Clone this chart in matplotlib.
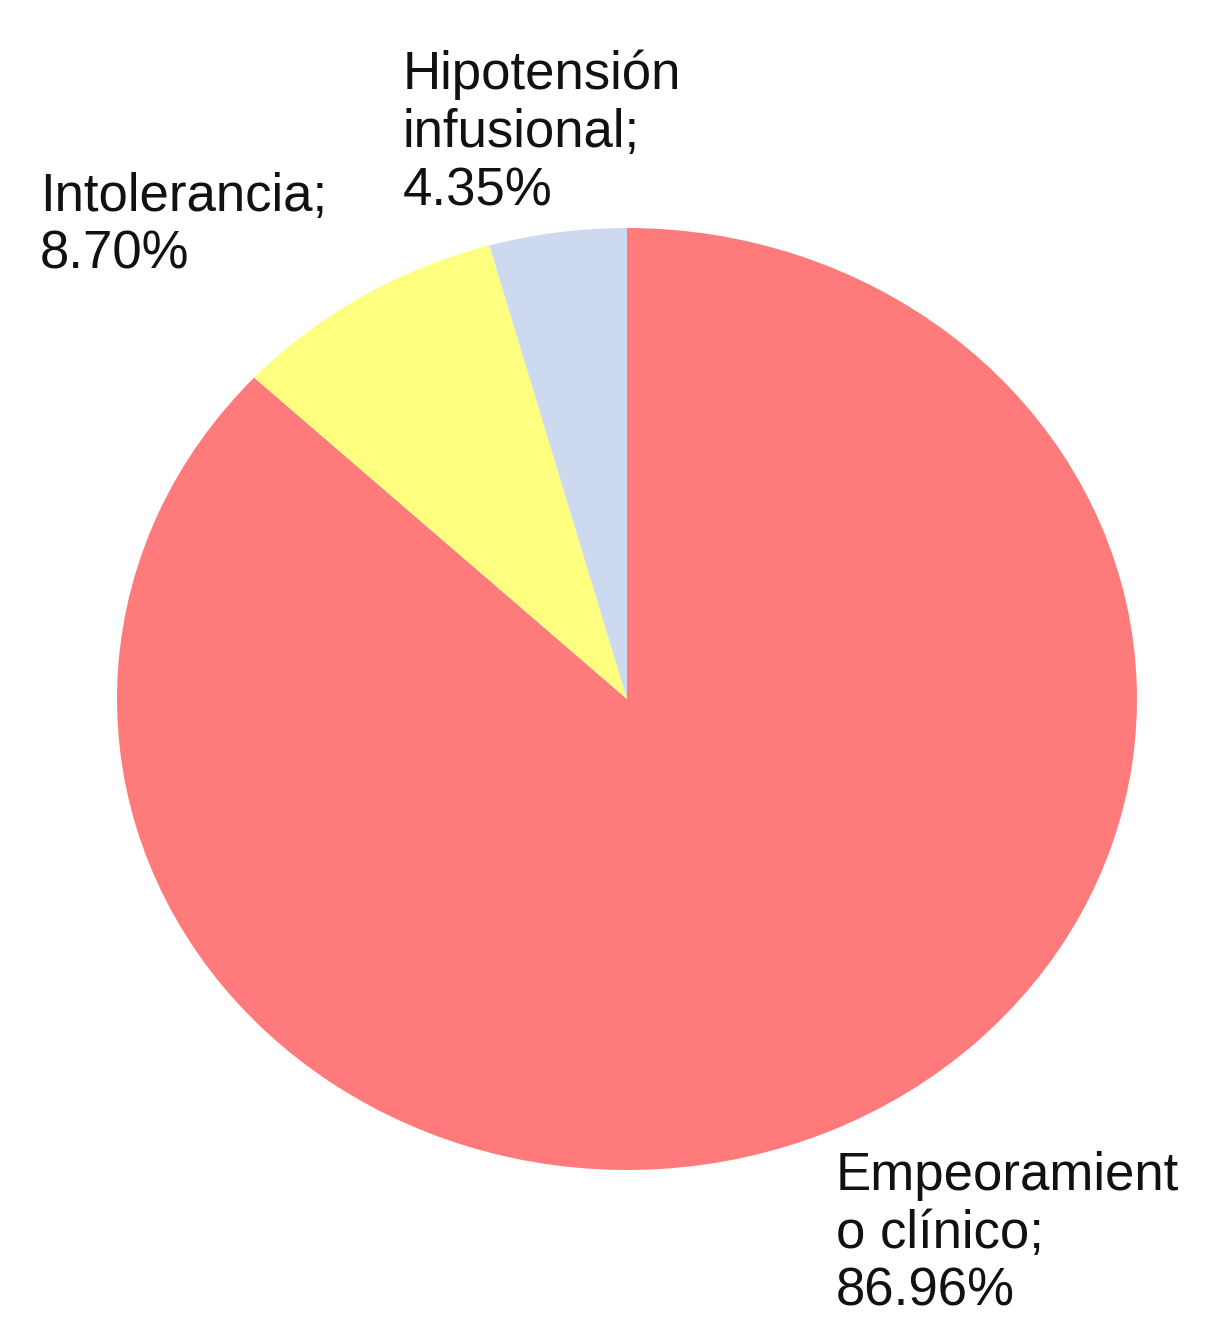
import matplotlib
matplotlib.use("Agg")
from matplotlib import pyplot as plt

# data
categories = ["Empeoramiento clínico", "Intolerancia", "Hipotensión infusional"]
shares = [86.96, 8.70, 4.35]
label_text = ["Empeoramient\no clínico;\n86.96%",
              "Intolerancia;\n8.70%",
              "Hipotensión\ninfusional;\n4.35%"]
colors = ["#ff7b7b", "#ffff7f", "#cdd9ee"]

W, H = 1219, 1317
fig = plt.figure(figsize=(W / 100, H / 100), dpi=100)
fig.patch.set_facecolor("white")

# pie box in pixels (the source image is slightly stretched, so ellipse)
x0, x1, y0, y1 = 117, 1137, 228, 1170
ax = fig.add_axes([x0 / W, 1 - y1 / H, (x1 - x0) / W, (y1 - y0) / H])
ax.pie(shares, colors=colors, startangle=90, counterclock=False,
       wedgeprops={"linewidth": 0})
ax.set_aspect("auto")
ax.set_xlim(-1, 1)
ax.set_ylim(-1, 1)
ax.axis("off")

# label anchors (left edge, top) in pixels
label_pos = [(836, 1151), (40, 172), (403, 50)]
for txt, (px, py) in zip(label_text, label_pos):
    fig.text(px / W, 1 - py / H, txt, ha="left", va="top",
             fontsize=38, family="Liberation Sans", color="#111111",
             linespacing=1.2)

fig.savefig("out.png", dpi=100, facecolor="white")
